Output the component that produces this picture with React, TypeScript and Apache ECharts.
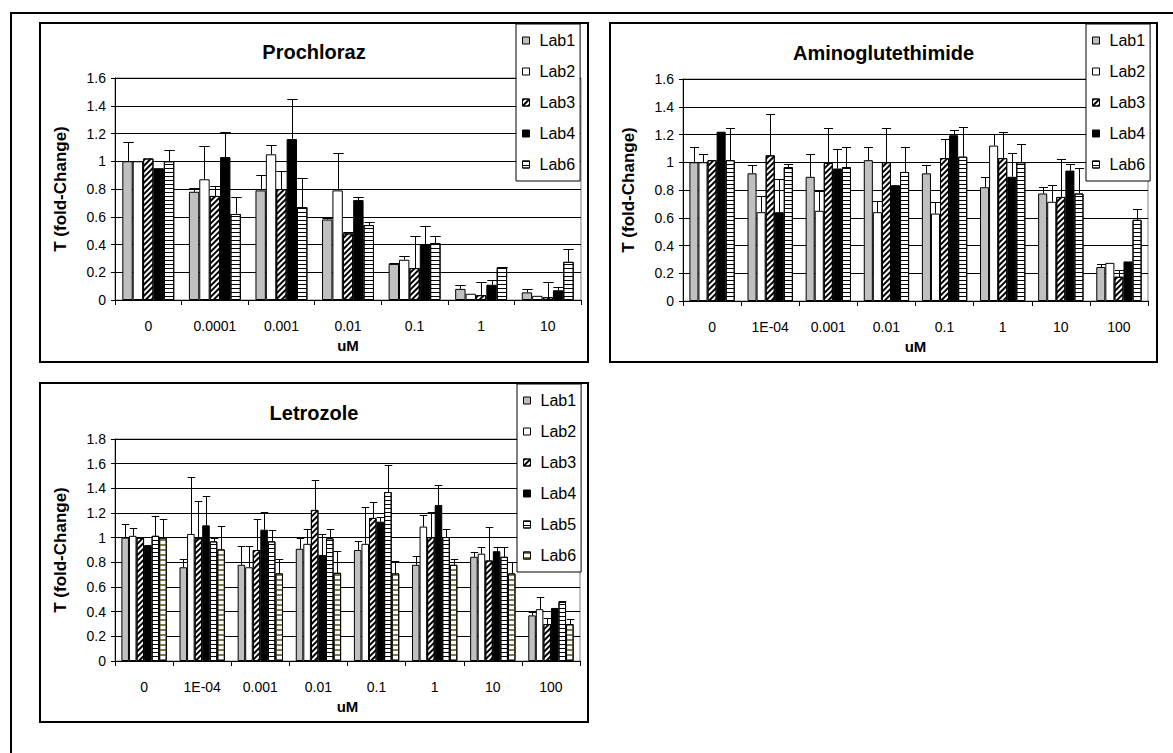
import React, { useEffect, useRef } from "react";
import * as echarts from "echarts";

const FONT = '"Liberation Sans", Arial, sans-serif';

// ---------- Data ----------
const prochlorazDoses = ["0", "0.0001", "0.001", "0.01", "0.1", "1", "10"];
const prochlorazLab1 = [1.0, 0.78, 0.79, 0.58, 0.26, 0.08, 0.055];
const prochlorazLab1Err = [0.14, 0.03, 0.11, 0.01, 0.01, 0.025, 0.025];
const prochlorazLab2 = [1.0, 0.87, 1.05, 0.79, 0.29, 0.045, 0.03];
const prochlorazLab2Err = [0, 0.24, 0.07, 0.27, 0.03, 0, 0];
const prochlorazLab3 = [1.02, 0.75, 0.8, 0.48, 0.23, 0.035, 0.02];
const prochlorazLab3Err = [0, 0.07, 0.13, 0.01, 0.23, 0.095, 0.11];
const prochlorazLab4 = [0.95, 1.03, 1.16, 0.72, 0.4, 0.11, 0.07];
const prochlorazLab4Err = [0, 0.18, 0.29, 0.02, 0.13, 0.035, 0.025];
const prochlorazLab6 = [1.0, 0.62, 0.67, 0.54, 0.41, 0.235, 0.275];
const prochlorazLab6Err = [0.08, 0.12, 0.21, 0.02, 0.05, 0.005, 0.09];

const aminoDoses = ["0", "1E-04", "0.001", "0.01", "0.1", "1", "10", "100"];
const aminoLab1 = [1.0, 0.92, 0.895, 1.015, 0.92, 0.82, 0.775, 0.245];
const aminoLab1Err = [0.11, 0.06, 0.165, 0.095, 0.06, 0.075, 0.05, 0.025];
const aminoLab2 = [1.0, 0.64, 0.65, 0.64, 0.63, 1.12, 0.715, 0.275];
const aminoLab2Err = [0.06, 0.12, 0.14, 0.08, 0.08, 0.085, 0.12, 0];
const aminoLab3 = [1.015, 1.05, 0.995, 1.0, 1.03, 1.03, 0.75, 0.175];
const aminoLab3Err = [0, 0.3, 0.25, 0.245, 0.14, 0.19, 0.275, 0.045];
const aminoLab4 = [1.22, 0.64, 0.955, 0.835, 1.195, 0.895, 0.94, 0.285];
const aminoLab4Err = [0, 0.24, 0.14, 0, 0.035, 0.17, 0.05, 0];
const aminoLab6 = [1.015, 0.965, 0.965, 0.93, 1.04, 1.0, 0.775, 0.585];
const aminoLab6Err = [0.23, 0.025, 0.145, 0.18, 0.215, 0.135, 0.18, 0.08];

const letrozoleDoses = ["0", "1E-04", "0.001", "0.01", "0.1", "1", "10", "100"];
const letrozoleLab1 = [1.0, 0.76, 0.78, 0.91, 0.9, 0.78, 0.845, 0.37];
const letrozoleLab1Err = [0.11, 0.07, 0.155, 0.09, 0.07, 0.075, 0.04, 0.025];
const letrozoleLab2 = [1.015, 1.03, 0.76, 0.95, 0.95, 1.09, 0.87, 0.42];
const letrozoleLab2Err = [0.065, 0.465, 0.175, 0.12, 0.3, 0.095, 0.055, 0.1];
const letrozoleLab3 = [1.0, 0.995, 0.9, 1.225, 1.16, 1.005, 0.815, 0.3];
const letrozoleLab3Err = [0, 0.305, 0.255, 0.24, 0.13, 0.2, 0.27, 0.05];
const letrozoleLab4 = [0.94, 1.1, 1.065, 0.86, 1.13, 1.265, 0.89, 0.43];
const letrozoleLab4Err = [0, 0.24, 0.14, 0.17, 0.035, 0.16, 0.035, 0];
const letrozoleLab5 = [1.015, 0.97, 0.97, 0.995, 1.37, 1.005, 0.845, 0.48];
const letrozoleLab5Err = [0.16, 0.025, 0.09, 0.075, 0.22, 0.065, 0.08, 0.01];
const letrozoleLab6 = [1.0, 0.905, 0.71, 0.715, 0.71, 0.78, 0.71, 0.3];
const letrozoleLab6Err = [0.15, 0.19, 0.12, 0.18, 0.1, 0.05, 0.095, 0.04];

// ---------- Styles ----------
const BORDER = { borderColor: "#000", borderWidth: 1 };
const styleGray = { ...BORDER, color: "#C0C0C0" };
const styleWhite = { ...BORDER, color: "#FFFFFF" };
const styleBlack = { ...BORDER, color: "#000000" };
const styleDiag = {
  ...BORDER,
  color: "#FFFFFF",
  decal: {
    symbol: "rect",
    symbolSize: 1,
    color: "#000",
    dashArrayX: [1, 0],
    dashArrayY: [2, 2],
    rotation: -Math.PI / 4,
  },
};
const styleHStripe = {
  ...BORDER,
  color: "#FFFFFF",
  decal: {
    symbol: "rect",
    symbolSize: 1,
    color: "#000",
    dashArrayX: [1, 0],
    dashArrayY: [1, 3],
    rotation: 0,
  },
};
const styleOlive = {
  ...BORDER,
  color: "#FFFFFF",
  decal: {
    symbol: "rect",
    symbolSize: 1,
    color: "#7d7a45",
    dashArrayX: [1, 0],
    dashArrayY: [1.5, 3],
    rotation: 0,
  },
};

const GAP = 0.22;
const TICK_FS = 14;
const LEGEND_FS = 16;
const YNAME_FS = 17;
const XNAME_FS = 15;

type S = { name: string; values: number[]; errs: number[]; style: any };

function errSeries(idx: number, n: number, s: S) {
  return {
    type: "custom",
    name: "err-" + s.name,
    z: 10,
    silent: true,
    data: s.values.map((v, i) => [i, v, s.errs[i]]),
    encode: { x: 0, y: 1 },
    renderItem: (params: any, api: any) => {
      const e = api.value(2);
      if (!e) return null;
      const ci = api.value(0);
      const v = api.value(1);
      const catW = api.size([1, 0])[0];
      const total = catW * (1 - GAP);
      const bw = total / n;
      const base = api.coord([ci, v]);
      const top = api.coord([ci, v + e]);
      const x = Math.round(base[0] - total / 2 + (idx + 0.5) * bw) + 0.5;
      const yT = Math.round(top[1]) + 0.5;
      const half = bw / 2;
      return {
        type: "group",
        children: [
          { type: "line", shape: { x1: x, y1: base[1], x2: x, y2: yT }, style: { stroke: "#000", lineWidth: 1 } },
          { type: "line", shape: { x1: x - half, y1: yT, x2: x + half, y2: yT }, style: { stroke: "#000", lineWidth: 1 } },
        ],
      };
    },
  };
}

function buildOption(cfg: {
  title: string;
  titleTop: number;
  cats: string[];
  yMax: number;
  series: S[];
  grid: { left: number; top: number; width: number; height: number };
  legendLeft: number;
}) {
  const n = cfg.series.length;
  const bars = cfg.series.map((s) => ({
    type: "bar",
    name: s.name,
    data: s.values,
    barGap: "0%",
    barCategoryGap: GAP * 100 + "%",
    itemStyle: s.style,
    z: 2,
  }));
  const errs = cfg.series.map((s, i) => errSeries(i, n, s));
  return {
    animation: false,
    backgroundColor: "#fff",
    textStyle: { fontFamily: FONT },
    title: {
      text: cfg.title,
      left: "center",
      top: cfg.titleTop,
      padding: 0,
      textStyle: { fontFamily: FONT, fontSize: 20, fontWeight: "bold", color: "#000" },
    },
    legend: {
      orient: "vertical",
      left: cfg.legendLeft,
      top: 0,
      selectedMode: false,
      data: cfg.series.map((s) => s.name),
      itemWidth: 7,
      itemHeight: 7,
      itemGap: 14,
      padding: [8, 5, 8, 6],
      borderColor: "#000",
      borderWidth: 1,
      backgroundColor: "#fff",
      icon: "rect",
      itemStyle: { borderColor: "#000", borderWidth: 1 },
      textStyle: { fontFamily: FONT, fontSize: LEGEND_FS, color: "#000", lineHeight: 17, padding: [0, 0, 0, 5] },
      z: 20,
    },
    grid: {
      ...cfg.grid,
      show: true,
      borderColor: "#808080",
      borderWidth: 1,
      backgroundColor: "transparent",
      containLabel: false,
    },
    xAxis: {
      type: "category",
      data: cfg.cats,
      name: "uM",
      nameLocation: "middle",
      nameGap: 38,
      nameTextStyle: { fontFamily: FONT, fontSize: XNAME_FS, fontWeight: "bold", color: "#000" },
      axisLine: { lineStyle: { color: "#000", width: 1 } },
      axisTick: { show: true, length: 5, lineStyle: { color: "#000" } },
      axisLabel: { interval: 0, margin: 19, fontFamily: FONT, fontSize: TICK_FS, color: "#000" },
      splitLine: { show: false },
    },
    yAxis: {
      type: "value",
      min: 0,
      max: cfg.yMax,
      interval: 0.2,
      name: "T (fold-Change)",
      nameLocation: "middle",
      nameGap: 46,
      nameTextStyle: { fontFamily: FONT, fontSize: YNAME_FS, fontWeight: "bold", color: "#000" },
      axisLine: { show: true, lineStyle: { color: "#000", width: 1 } },
      axisTick: { show: true, length: 4, lineStyle: { color: "#000" } },
      axisLabel: { margin: 9, fontFamily: FONT, fontSize: TICK_FS, color: "#000" },
      splitLine: { show: true, lineStyle: { color: "#000", width: 1 } },
    },
    series: [...bars, ...errs],
  };
}

function Panel(props: { left: number; top: number; width: number; height: number; option: any }) {
  const ref = useRef<HTMLDivElement>(null);
  useEffect(() => {
    const chart = echarts.init(ref.current as HTMLDivElement, null, { renderer: "svg" });
    chart.setOption(props.option);
    return () => chart.dispose();
  }, []);
  return (
    <div
      style={{
        position: "absolute",
        left: props.left,
        top: props.top,
        width: props.width,
        height: props.height,
        border: "2px solid #000",
        boxSizing: "border-box",
        background: "#fff",
      }}
    >
      <div ref={ref} style={{ width: props.width - 4, height: props.height - 4 }} />
    </div>
  );
}

const prochlorazOption = buildOption({
  title: "Prochloraz",
  titleTop: 18,
  cats: prochlorazDoses,
  yMax: 1.6,
  series: [
    { name: "Lab1", values: prochlorazLab1, errs: prochlorazLab1Err, style: styleGray },
    { name: "Lab2", values: prochlorazLab2, errs: prochlorazLab2Err, style: styleWhite },
    { name: "Lab3", values: prochlorazLab3, errs: prochlorazLab3Err, style: styleDiag },
    { name: "Lab4", values: prochlorazLab4, errs: prochlorazLab4Err, style: styleBlack },
    { name: "Lab6", values: prochlorazLab6, errs: prochlorazLab6Err, style: styleHStripe },
  ],
  grid: { left: 74, top: 54, width: 466, height: 222 },
  legendLeft: 475,
});

const aminoOption = buildOption({
  title: "Aminoglutethimide",
  titleTop: 19,
  cats: aminoDoses,
  yMax: 1.6,
  series: [
    { name: "Lab1", values: aminoLab1, errs: aminoLab1Err, style: styleGray },
    { name: "Lab2", values: aminoLab2, errs: aminoLab2Err, style: styleWhite },
    { name: "Lab3", values: aminoLab3, errs: aminoLab3Err, style: styleDiag },
    { name: "Lab4", values: aminoLab4, errs: aminoLab4Err, style: styleBlack },
    { name: "Lab6", values: aminoLab6, errs: aminoLab6Err, style: styleHStripe },
  ],
  grid: { left: 72, top: 55, width: 465, height: 222 },
  legendLeft: 475,
});

const letrozoleOption = buildOption({
  title: "Letrozole",
  titleTop: 19,
  cats: letrozoleDoses,
  yMax: 1.8,
  series: [
    { name: "Lab1", values: letrozoleLab1, errs: letrozoleLab1Err, style: styleGray },
    { name: "Lab2", values: letrozoleLab2, errs: letrozoleLab2Err, style: styleWhite },
    { name: "Lab3", values: letrozoleLab3, errs: letrozoleLab3Err, style: styleDiag },
    { name: "Lab4", values: letrozoleLab4, errs: letrozoleLab4Err, style: styleBlack },
    { name: "Lab5", values: letrozoleLab5, errs: letrozoleLab5Err, style: styleHStripe },
    { name: "Lab6", values: letrozoleLab6, errs: letrozoleLab6Err, style: styleOlive },
  ],
  grid: { left: 74, top: 55, width: 465, height: 222 },
  legendLeft: 476,
});

export default function App() {
  return (
    <div
      style={{
        position: "absolute",
        left: 0,
        top: 0,
        width: 1173,
        height: 753,
        overflow: "hidden",
        background: "#fff",
      }}
    >
      <div
        style={{
          position: "absolute",
          left: 10,
          top: 12,
          width: 2000,
          height: 2000,
          borderTop: "2px solid #000",
          borderLeft: "2px solid #000",
        }}
      />
      <Panel left={39} top={22} width={550} height={341} option={prochlorazOption} />
      <Panel left={609} top={22} width={549} height={341} option={aminoOption} />
      <Panel left={39} top={382} width={550} height={341} option={letrozoleOption} />
    </div>
  );
}
